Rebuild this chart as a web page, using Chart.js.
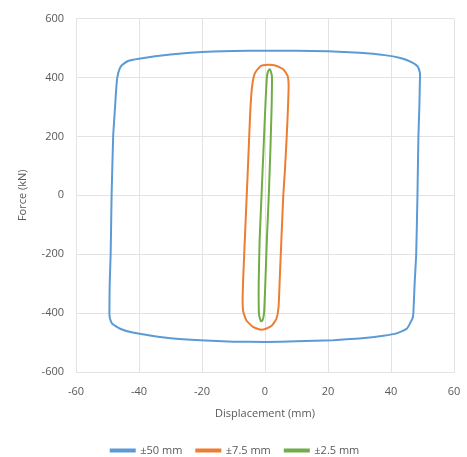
<!DOCTYPE html>
<html>
<head>
<meta charset="utf-8">
<script src="https://cdn.jsdelivr.net/npm/chart.js@4.4.0/dist/chart.umd.min.js"></script>
<style>
  html, body { margin: 0; padding: 0; background: #fff; }
  #wrap { width: 467px; height: 457px; position: relative; }
</style>
</head>
<body>
<div id="wrap"><canvas id="myChart"></canvas></div>
<script>
// +-50 mm loop (displacement mm, force kN), starts mid left edge
const loop50X = [-48.7, -48.2, -47.6, -47.1, -46.6, -45.6, -43.5, -40, -30, -20, -10, 0, 10, 20, 30, 38, 43, 46.5, 48.5, 49.2, 49.2, 49, 48.7, 48.4, 48, 47.5, 47.1, 46.8, 45, 42, 37.6, 30, 21.7, 10, 0, -10, -20.6, -30, -36.5, -42, -46, -48.5, -49.2, -49.4, -49.3, -49, -48.7];
const loop50Y = [0, 200, 300, 380, 415, 440, 456, 464, 478, 487, 490, 491, 491, 489, 484, 476, 466, 452, 437, 415, 400, 300, 200, 0, -200, -300, -400, -419, -453, -468, -477, -486, -492, -496, -498, -497, -492, -485, -476, -466, -453, -436, -419, -400, -300, -200, 0];

// +-7.5 mm loop, starts mid right side
const loop7X = [5.8, 5.2, 4.7, 4.3, 3.6, 2.2, 0.3, -1.5, -3.8, -5.9, -6.9, -7.1, -6.8, -6.2, -5.8, -5.2, -4.7, -4.1, -3.2, -1.5, 1, 3.5, 5.8, 7.2, 7.5, 7.3, 6.9, 6.3, 5.8];
const loop7Y = [0, -150, -280, -380, -420, -442, -453, -456, -447, -425, -395, -350, -250, -100, 0, 150, 280, 370, 415, 438, 443, 440, 428, 405, 370, 300, 200, 80, 0];

// +-2.5 mm loop, starts mid right side
const loop2X = [1.2, 0.6, 0.1, -0.3, -0.8, -1.3, -1.9, -2.0, -1.7, -1.1, -0.5, 0.1, 0.6, 1.0, 1.6, 2.2, 2.1, 1.7, 1.2];
const loop2Y = [0, -150, -300, -400, -425, -428, -405, -300, -150, 0, 150, 300, 400, 422, 428, 405, 300, 150, 0];

const seriesNames = ["\u00b150 mm", "\u00b17.5 mm", "\u00b12.5 mm"];
const seriesColors = ["#5B9BD5", "#ED7D31", "#70AD47"];

function toPoints(xs, ys) {
  return xs.map((x, i) => ({ x: x, y: ys[i] }));
}

const grid = "#E3E3E3";
const textColor = "#595959";
const font = "'Open Sans', 'Noto Sans', sans-serif";

const ctx = document.getElementById("myChart");
const myChart = new Chart(ctx, {
  type: "scatter",
  data: {
    datasets: [
      { label: seriesNames[0], data: toPoints(loop50X, loop50Y) },
      { label: seriesNames[1], data: toPoints(loop7X, loop7Y) },
      { label: seriesNames[2], data: toPoints(loop2X, loop2Y) },
    ].map((ds, i) => Object.assign(ds, {
      showLine: true,
      borderColor: seriesColors[i],
      backgroundColor: seriesColors[i],
      borderWidth: 2,
      pointRadius: 0,
      tension: 0.15,
    })),
  },
  options: {
    responsive: true,
    maintainAspectRatio: false,
    animation: false,
    layout: { padding: { left: 16, right: 13, top: 11, bottom: -9 } },
    scales: {
      x: {
        type: "linear",
        min: -60,
        max: 60,
        ticks: { stepSize: 20, color: textColor, font: { family: font, size: 11 }, padding: 13, maxRotation: 0 },
        grid: { color: grid, drawTicks: false },
        border: { color: grid },
        title: {
          display: true,
          text: "Displacement (mm)",
          color: textColor,
          font: { family: font, size: 11 },
          padding: { top: 4, bottom: 11 },
        },
        afterFit: (s) => {
          s.height = 59;
          s.paddingRight = 6;
        },
      },
      y: {
        type: "linear",
        min: -600,
        max: 600,
        ticks: { stepSize: 200, color: textColor, font: { family: font, size: 11 }, padding: 12 },
        grid: { color: grid, drawTicks: false },
        border: { color: grid },
        title: {
          display: true,
          text: "Force (kN)",
          color: textColor,
          font: { family: font, size: 11 },
          padding: 0,
        },
        afterFit: (s) => { s.width = 60; },
      },
    },
    plugins: {
      legend: {
        position: "bottom",
        labels: {
          boxWidth: 24,
          boxHeight: 2,
          color: textColor,
          font: { family: font, size: 11 },
          padding: 14,
        },
      },
      tooltip: { enabled: false },
    },
  },
});
</script>
</body>
</html>
